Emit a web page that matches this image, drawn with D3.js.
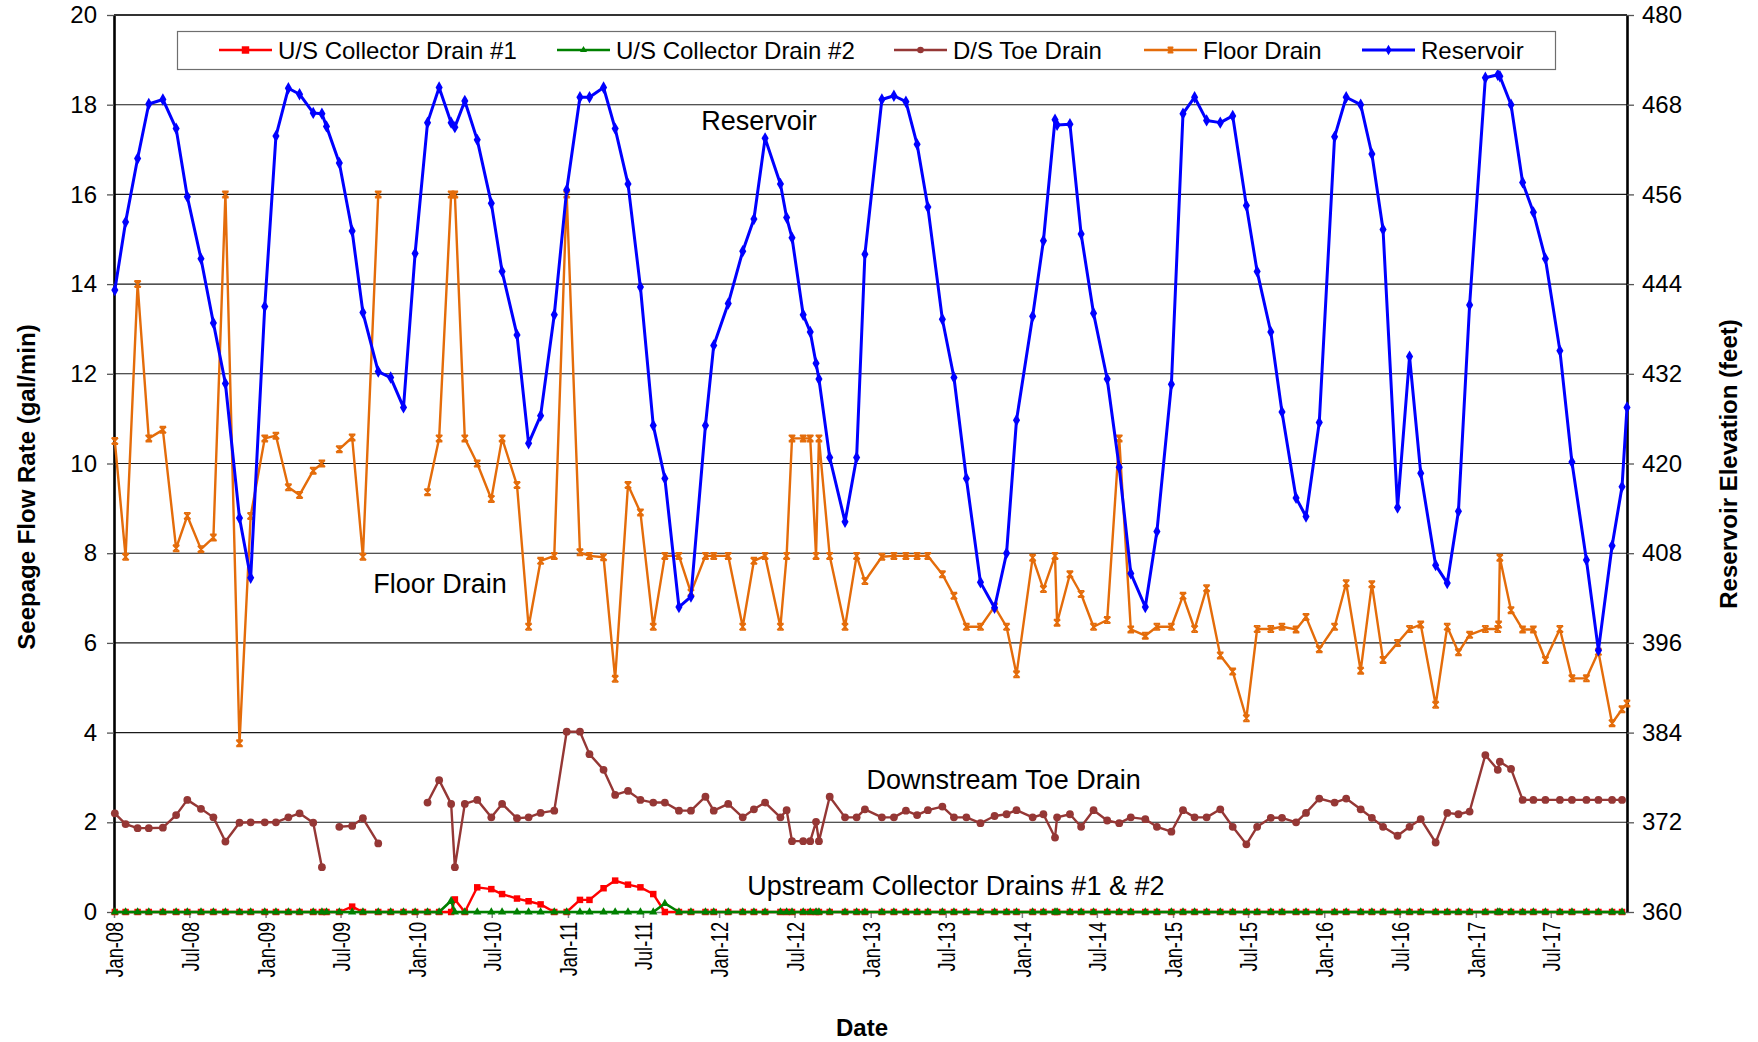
<!DOCTYPE html>
<html><head><meta charset="utf-8">
<script src="https://cdn.jsdelivr.net/npm/d3@7"></script>
<style>
html,body{margin:0;padding:0;background:#fff;}
svg{display:block;font-family:"Liberation Sans",Arial,Helvetica,sans-serif;}
</style></head><body>
<svg id="chart" width="1758" height="1042"></svg>
<script>
// ---------------- DATA ----------------
const resDates = [
"2008-01-03","2008-01-29","2008-02-27","2008-03-25","2008-04-28","2008-05-30","2008-06-26","2008-07-29","2008-08-28","2008-09-26","2008-10-30","2008-11-26","2008-12-30",
"2009-01-26","2009-02-25","2009-03-24","2009-04-26","2009-05-17","2009-05-28","2009-06-28","2009-07-29","2009-08-24","2009-09-30","2009-10-30","2009-11-30","2009-12-28",
"2010-01-27","2010-02-24","2010-03-25","2010-04-03","2010-04-27","2010-05-27","2010-06-30","2010-07-26","2010-08-31","2010-09-28","2010-10-27","2010-11-29","2010-12-29",
"2011-01-30","2011-02-22","2011-03-28","2011-04-25","2011-05-26","2011-06-25","2011-07-26","2011-08-23","2011-09-26","2011-10-25","2011-11-29","2011-12-19",
"2012-01-23","2012-02-27","2012-03-25","2012-04-21","2012-05-28","2012-06-12","2012-06-25","2012-07-22","2012-08-08","2012-08-22","2012-08-29","2012-09-24","2012-10-31","2012-11-28","2012-12-18",
"2013-01-28","2013-02-26","2013-03-27","2013-04-23","2013-05-19","2013-06-23","2013-07-21","2013-08-20","2013-09-23","2013-10-27","2013-11-25","2013-12-19",
"2014-01-27","2014-02-22","2014-03-22","2014-03-27","2014-04-27","2014-05-24","2014-06-23","2014-07-26","2014-08-24","2014-09-21","2014-10-26","2014-11-23","2014-12-28",
"2015-01-25","2015-02-22","2015-03-23","2015-04-25","2015-05-25","2015-06-27","2015-07-23","2015-08-25","2015-09-21","2015-10-25","2015-11-18","2015-12-20",
"2016-01-26","2016-02-23","2016-03-29","2016-04-25","2016-05-22","2016-06-26","2016-07-25","2016-08-21","2016-09-26","2016-10-24","2016-11-20","2016-12-17",
"2017-01-24","2017-02-23","2017-02-28","2017-03-27","2017-04-24","2017-05-20","2017-06-18","2017-07-23","2017-08-21","2017-09-25","2017-10-24","2017-11-26","2017-12-20",
"2018-01-01"];
const reservoir = [
443.2,452.3,460.8,468.1,468.7,464.8,455.7,447.4,438.8,430.7,412.7,404.7,441.0,
463.8,470.2,469.4,466.9,466.8,465.1,460.2,451.1,440.2,432.3,431.5,427.5,448.1,
465.6,470.3,465.6,465.0,468.5,463.3,454.8,445.7,437.2,422.7,426.4,439.9,456.6,
469.0,469.0,470.3,464.8,457.4,443.6,425.1,418.0,400.8,402.2,425.1,435.8,
441.4,448.4,452.7,463.5,457.4,452.9,450.2,439.9,437.6,433.4,431.3,420.8,412.2,420.8,448.0,
468.7,469.2,468.4,462.7,454.3,439.3,431.5,418.0,404.1,400.7,408.0,425.8,
439.7,449.8,466.0,465.3,465.4,450.7,440.1,431.3,419.5,405.3,400.8,410.9,430.6,
466.8,469.0,465.9,465.6,466.5,454.5,445.7,437.6,426.9,415.4,412.9,425.5,
463.7,469.0,468.0,461.4,451.3,414.1,434.3,418.7,406.4,404.0,413.6,441.2,
471.6,472.0,471.8,468.0,457.6,453.6,447.4,435.1,420.2,407.1,395.0,409.0,416.9,
427.5];
// U/S collector drains share the reservoir reading dates
const usDrain1 = [
0,0,0,0,0,0,0,0,0,0,0,0,0,
0,0,0,0,0,0,0,0.12,0,0,0,0,0,
0,0,0,0.28,0,0.55,0.51,0.40,0.30,0.24,0.17,0,0,
0.27,0.27,0.53,0.70,0.61,0.55,0.40,0,0,0,0,0,
0,0,0,0,0,0,0,0,0,0,0,0,0,0,0,
0,0,0,0,0,0,0,0,0,0,0,0,
0,0,0,0,0,0,0,0,0,0,0,0,0,
0,0,0,0,0,0,0,0,0,0,0,0,
0,0,0,0,0,0,0,0,0,0,0,0,
0,0,0,0,0,0,0,0,0,0,0,0,0,
null];
const usDrain2 = [
0,0,0,0,0,0,0,0,0,0,0,0,0,
0,0,0,0,0,0,0,0,0,0,0,0,0,
0,0,0.25,0,0,0,0,0,0,0,0,0,0,
0,0,0,0,0,0,0,0.19,0,0,0,0,
0,0,0,0,0,0,0,0,0,0,0,0,0,0,0,
0,0,0,0,0,0,0,0,0,0,0,0,
0,0,0,0,0,0,0,0,0,0,0,0,0,
0,0,0,0,0,0,0,0,0,0,0,0,
0,0,0,0,0,0,0,0,0,0,0,0,
0,0,0,0,0,0,0,0,0,0,0,0,0,
null];
const floorDates = [
"2008-01-03","2008-01-29","2008-02-27","2008-03-25","2008-04-28","2008-05-30","2008-06-26","2008-07-29","2008-08-28","2008-09-26","2008-10-30","2008-11-26","2008-12-30",
"2009-01-26","2009-02-25","2009-03-24","2009-04-26","2009-05-17","2009-05-28","2009-06-28","2009-07-29","2009-08-24","2009-09-30","2009-10-30",
"2010-01-27","2010-02-24","2010-03-25","2010-04-03","2010-04-27","2010-05-27","2010-06-30","2010-07-26","2010-08-31","2010-09-28","2010-10-27","2010-11-29","2010-12-29",
"2011-01-30","2011-02-22","2011-03-28","2011-04-25","2011-05-26","2011-06-25","2011-07-26","2011-08-23","2011-09-26","2011-10-25","2011-11-29","2011-12-19",
"2012-01-23","2012-02-27","2012-03-25","2012-04-21","2012-05-28","2012-06-12","2012-06-25","2012-07-22","2012-08-08","2012-08-22","2012-08-29","2012-09-24","2012-10-31","2012-11-28","2012-12-18",
"2013-01-28","2013-02-26","2013-03-27","2013-04-23","2013-05-19","2013-06-23","2013-07-21","2013-08-20","2013-09-23","2013-10-27","2013-11-25","2013-12-19",
"2014-01-27","2014-02-22","2014-03-22","2014-03-27","2014-04-27","2014-05-24","2014-06-23","2014-07-26","2014-08-24","2014-09-21","2014-10-26","2014-11-23","2014-12-28",
"2015-01-25","2015-02-22","2015-03-23","2015-04-25","2015-05-25","2015-06-27","2015-07-23","2015-08-25","2015-09-21","2015-10-25","2015-11-18","2015-12-20",
"2016-01-26","2016-02-23","2016-03-29","2016-04-25","2016-05-22","2016-06-26","2016-07-25","2016-08-21","2016-09-26","2016-10-24","2016-11-20","2016-12-17",
"2017-01-24","2017-02-23","2017-02-25","2017-02-28","2017-03-27","2017-04-24","2017-05-20","2017-06-18","2017-07-23","2017-08-21","2017-09-25","2017-10-24","2017-11-26","2017-12-20","2018-01-01"];
const floorDrain = [
10.5,7.92,14.0,10.56,10.75,8.11,8.83,8.09,8.35,16.0,3.76,8.83,10.56,
10.62,9.47,9.30,9.84,10.0,null,10.32,10.58,7.92,16.0,null,
9.36,10.56,16.0,16.0,10.56,10.0,9.21,10.56,9.52,6.36,7.83,7.94,16.0,
8.02,7.94,7.91,5.20,9.52,8.91,6.36,7.94,7.94,7.12,7.94,7.94,
7.94,6.36,7.83,7.94,6.36,7.94,10.56,10.56,10.56,7.94,10.56,7.94,6.36,7.94,7.38,
7.92,7.94,7.94,7.94,7.94,7.53,7.05,6.36,6.36,6.81,6.36,5.30,
7.90,7.20,7.94,6.45,7.53,7.09,6.36,6.51,10.56,6.30,6.16,6.36,6.36,
7.05,6.31,7.22,5.72,5.36,4.32,6.31,6.31,6.36,6.30,6.58,5.86,
6.36,7.33,5.38,7.31,5.62,6.00,6.31,6.41,4.62,6.36,5.79,6.18,
6.31,6.31,6.41,7.90,6.73,6.30,6.30,5.62,6.31,5.21,5.21,5.80,4.21,4.52,4.65];
const toeDates = [
"2008-01-03","2008-01-29","2008-02-27","2008-03-25","2008-04-28","2008-05-30","2008-06-26","2008-07-29","2008-08-28","2008-09-26","2008-10-30","2008-11-26","2008-12-30",
"2009-01-26","2009-02-25","2009-03-24","2009-04-26","2009-05-17","2009-05-28","2009-06-28","2009-07-29","2009-08-24","2009-09-30","2009-10-30",
"2010-01-27","2010-02-24","2010-03-25","2010-04-03","2010-04-27","2010-05-27","2010-06-30","2010-07-26","2010-08-31","2010-09-28","2010-10-27","2010-11-29","2010-12-29",
"2011-01-30","2011-02-22","2011-03-28","2011-04-25","2011-05-26","2011-06-25","2011-07-26","2011-08-23","2011-09-26","2011-10-25","2011-11-29","2011-12-19",
"2012-01-23","2012-02-27","2012-03-25","2012-04-21","2012-05-28","2012-06-12","2012-06-25","2012-07-22","2012-08-08","2012-08-22","2012-08-29","2012-09-24","2012-10-31","2012-11-28","2012-12-18",
"2013-01-28","2013-02-26","2013-03-27","2013-04-23","2013-05-19","2013-06-23","2013-07-21","2013-08-20","2013-09-23","2013-10-27","2013-11-25","2013-12-19",
"2014-01-27","2014-02-22","2014-03-22","2014-03-27","2014-04-27","2014-05-24","2014-06-23","2014-07-26","2014-08-24","2014-09-21","2014-10-26","2014-11-23","2014-12-28",
"2015-01-25","2015-02-22","2015-03-23","2015-04-25","2015-05-25","2015-06-27","2015-07-23","2015-08-25","2015-09-21","2015-10-25","2015-11-18","2015-12-20",
"2016-01-26","2016-02-23","2016-03-29","2016-04-25","2016-05-22","2016-06-26","2016-07-25","2016-08-21","2016-09-26","2016-10-24","2016-11-20","2016-12-17",
"2017-01-24","2017-02-23","2017-02-28","2017-03-27","2017-04-24","2017-05-20","2017-06-18","2017-07-23","2017-08-21","2017-09-25","2017-10-24","2017-11-26","2017-12-20"];
const toeDrain = [
2.20,1.96,1.87,1.87,1.88,2.16,2.50,2.30,2.11,1.57,1.99,2.00,2.00,
2.00,2.11,2.20,1.99,1.00,null,1.90,1.92,2.09,1.53,null,
2.44,2.94,2.41,1.00,2.41,2.50,2.11,2.41,2.09,2.11,2.21,2.26,4.02,
4.02,3.52,3.17,2.61,2.70,2.50,2.44,2.44,2.26,2.26,2.57,2.26,
2.41,2.11,2.29,2.44,2.11,2.27,1.58,1.58,1.58,2.01,1.58,2.57,2.11,2.11,2.29,
2.11,2.11,2.26,2.16,2.27,2.35,2.11,2.11,1.98,2.14,2.18,2.27,
2.11,2.18,1.66,2.11,2.18,1.90,2.27,2.04,1.98,2.11,2.07,1.90,1.79,
2.27,2.11,2.11,2.29,1.90,1.51,1.90,2.10,2.10,2.00,2.21,2.53,
2.44,2.53,2.29,2.10,1.90,1.70,1.90,2.07,1.55,2.21,2.18,2.24,
3.50,3.17,3.35,3.19,2.50,2.50,2.50,2.50,2.50,2.50,2.50,2.50,2.50];

const seriesNames = ["U/S Collector Drain #1","U/S Collector Drain #2","D/S Toe Drain","Floor Drain","Reservoir"];
const xTickLabels = ["Jan-08","Jul-08","Jan-09","Jul-09","Jan-10","Jul-10","Jan-11","Jul-11","Jan-12","Jul-12",
  "Jan-13","Jul-13","Jan-14","Jul-14","Jan-15","Jul-15","Jan-16","Jul-16","Jan-17","Jul-17"];
const leftTicks = [0,2,4,6,8,10,12,14,16,18,20];
const rightTicks = [360,372,384,396,408,420,432,444,456,468,480];
const annotations = [
  {text:"Reservoir", date:"2011-11-19", value:17.44},
  {text:"Floor Drain", date:"2009-09-18", value:7.11},
  {text:"Downstream Toe Drain", date:"2012-12-22", value:2.74},
  {text:"Upstream Collector Drains #1 & #2", date:"2012-03-09", value:0.39}
];

// ---------------- LAYOUT ----------------
const L = 114, R = 1627, T = 15, B = 912;
const FONT = 24;
const svg = d3.select("#chart");
const parse = d3.timeParse("%Y-%m-%d");
const parseTick = d3.timeParse("%b-%y");

const x = d3.scaleTime().domain([new Date(2008,0,1), new Date(2018,0,1)]).range([L, R]);
const yL = d3.scaleLinear().domain([0,20]).range([B, T]);
const yR = d3.scaleLinear().domain([360,480]).range([B, T]);

// gridlines
svg.append("g").selectAll("line").data(leftTicks.filter(v=>v>0)).join("line")
  .attr("x1", L).attr("x2", R).attr("y1", d=>yL(d)).attr("y2", d=>yL(d))
  .attr("stroke", d=>d===20?"#333":"#1a1a1a").attr("stroke-width", d=>d===20?2:1.1);

// x axis
const xAxis = svg.append("g").attr("transform", `translate(0,${B})`)
  .call(d3.axisBottom(x).tickValues(xTickLabels.map(parseTick)).tickFormat((d,i)=>xTickLabels[i]).tickSize(6).tickSizeOuter(0));
xAxis.select(".domain").attr("stroke","#808080").attr("stroke-width",1.5);
xAxis.selectAll(".tick line").attr("stroke","#808080").attr("stroke-width",1.5);
xAxis.selectAll(".tick text").attr("transform","rotate(-90) scale(0.76,1)").attr("text-anchor","end")
  .attr("x",-13).attr("y",0).attr("dy","0.36em").attr("font-size",FONT).attr("fill","#000")
  .attr("font-family","'Liberation Sans',Arial,sans-serif");

// left axis
const yAxisL = svg.append("g").attr("transform", `translate(${L},0)`)
  .call(d3.axisLeft(yL).tickValues(leftTicks).tickSize(7).tickPadding(10).tickSizeOuter(0));
yAxisL.select(".domain").attr("stroke","#000").attr("stroke-width",2.6);
yAxisL.selectAll(".tick line").attr("stroke","#555").attr("stroke-width",1.3);
yAxisL.selectAll(".tick text").attr("font-size",FONT).attr("fill","#000")
  .attr("font-family","'Liberation Sans',Arial,sans-serif");

// right axis
const yAxisR = svg.append("g").attr("transform", `translate(${R},0)`)
  .call(d3.axisRight(yR).tickValues(rightTicks).tickSize(7).tickPadding(8).tickSizeOuter(0));
yAxisR.select(".domain").attr("stroke","#000").attr("stroke-width",2.6);
yAxisR.selectAll(".tick line").attr("stroke","#555").attr("stroke-width",1.3);
yAxisR.selectAll(".tick text").attr("font-size",FONT).attr("fill","#000")
  .attr("font-family","'Liberation Sans',Arial,sans-serif");

// axis titles
svg.append("text").attr("transform","translate(26,487) rotate(-90)").attr("text-anchor","middle")
  .attr("dominant-baseline","central").attr("font-size",FONT).attr("font-weight","bold").text("Seepage Flow Rate (gal/min)");
svg.append("text").attr("transform","translate(1728,464) rotate(-90)").attr("text-anchor","middle")
  .attr("dominant-baseline","central").attr("font-size",FONT).attr("font-weight","bold").text("Reservoir Elevation (feet)");
svg.append("text").attr("x",862).attr("y",1027).attr("text-anchor","middle")
  .attr("dominant-baseline","central").attr("font-size",FONT).attr("font-weight","bold").text("Date");

// ---------------- SERIES ----------------
const starPath = s => `M${-s},${-s}L${s},${s}M${-s},${s}L${s},${-s}M0,${-s}L0,${s}M${-s},${-s}L${s},${-s}M${-s},${s}L${s},${s}`;
const styles = [
  {color:"#FF0000", width:2.4, marker:"square"},
  {color:"#008000", width:2.6, marker:"triangle"},
  {color:"#953735", width:2.4, marker:"circle"},
  {color:"#E46C0A", width:2.4, marker:"star"},
  {color:"#0000FF", width:3.0, marker:"diamond"}
];
function drawMarker(g, kind, color, px, py, scale=1){
  if(kind==="circle") g.append("circle").attr("cx",px).attr("cy",py).attr("r",3.9*scale).attr("fill",color);
  else if(kind==="star") g.append("path").attr("transform",`translate(${px},${py})`).attr("d",starPath(3.2*scale))
      .attr("stroke",color).attr("stroke-width",1.6).attr("fill","none");
  else {
    const type = {square:d3.symbolSquare, triangle:d3.symbolTriangle, diamond:d3.symbolDiamond}[kind];
    const size = {square:42, triangle:30, diamond:44}[kind]*scale*scale;
    g.append("path").attr("transform",`translate(${px},${py})`).attr("d",d3.symbol().type(type).size(size)()).attr("fill",color);
  }
}
function drawSeries(dates, values, yScale, st){
  const pts = dates.map((d,i)=>({px:x(parse(d)), v:values[i]}));
  const g = svg.append("g");
  const line = d3.line().defined(p=>p.v!=null).x(p=>p.px).y(p=>yScale(p.v));
  g.append("path").datum(pts).attr("d",line).attr("fill","none").attr("stroke",st.color)
    .attr("stroke-width",st.width).attr("stroke-linejoin","round");
  pts.filter(p=>p.v!=null).forEach(p=>drawMarker(g, st.marker, st.color, p.px, yScale(p.v)));
}
drawSeries(resDates, usDrain1, yL, styles[0]);
drawSeries(resDates, usDrain2, yL, styles[1]);
drawSeries(toeDates, toeDrain, yL, styles[2]);
drawSeries(floorDates, floorDrain, yL, styles[3]);
drawSeries(resDates, reservoir, yR, styles[4]);

// top border
svg.append("line").attr("x1",L).attr("x2",R).attr("y1",T).attr("y2",T).attr("stroke","#333").attr("stroke-width",2.2);

// annotations
annotations.forEach(a=>{
  svg.append("text").attr("x",x(parse(a.date))).attr("y",yL(a.value)).attr("font-size",27).attr("fill","#000").text(a.text);
});

// ---------------- LEGEND ----------------
const legend = svg.append("g");
legend.append("rect").attr("x",177.5).attr("y",31.5).attr("width",1378).attr("height",38)
  .attr("fill","#fff").attr("stroke","#6e6e6e").attr("stroke-width",1.2);
const legendX = [219, 557, 894, 1144, 1362];
seriesNames.forEach((name,i)=>{
  const st = styles[i], lx = legendX[i];
  legend.append("line").attr("x1",lx).attr("x2",lx+53).attr("y1",50).attr("y2",50)
    .attr("stroke",st.color).attr("stroke-width",st.width);
  drawMarker(legend, st.marker, st.color, lx+26.5, 50, i===0?1.15:0.85);
  legend.append("text").attr("x",lx+59).attr("y",58.5).attr("font-size",FONT).attr("fill","#000").text(name);
});
</script>
</body></html>
